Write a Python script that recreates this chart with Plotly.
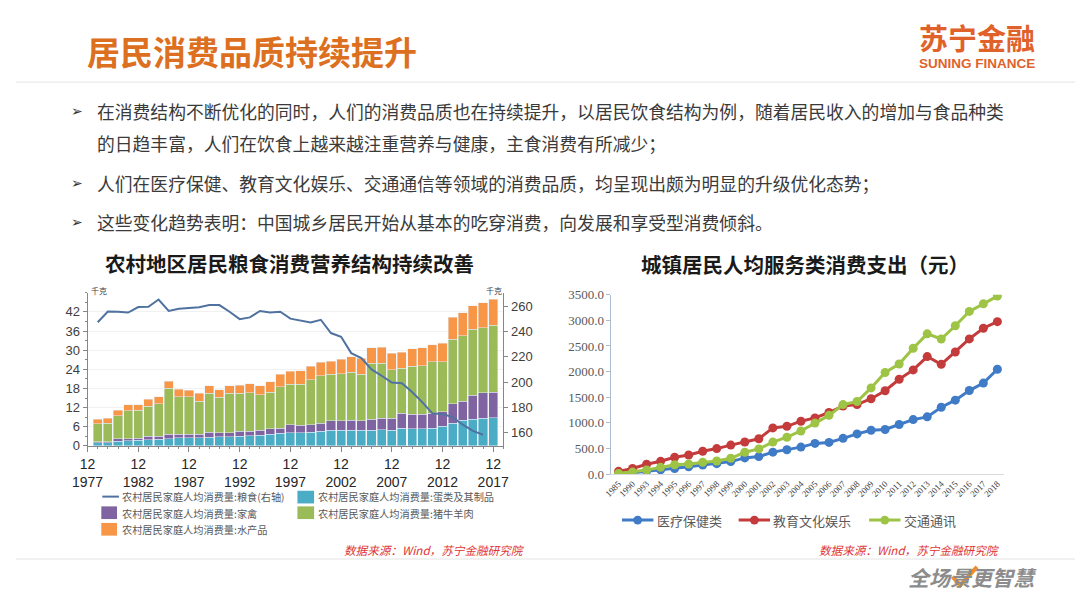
import plotly.graph_objects as go

# ---------------- data: left chart (rural per-capita consumption, kg) ----------------
years_rural = list(range(1978, 2018))
eggs = [1.0, 1.0, 1.5, 1.6, 1.8, 2.0, 2.1, 2.3, 2.5, 2.5, 2.5, 2.7, 2.8, 2.8, 3.0, 3.2, 3.3, 3.6, 3.9, 4.1,
        4.1, 4.3, 4.6, 4.9, 4.9, 4.9, 4.9, 4.9, 5.1, 4.9, 5.6, 5.4, 5.4, 5.6, 6.1, 7.1, 8.1, 8.3, 8.6, 8.9]
poultry = [0.3, 0.3, 0.8, 0.7, 0.6, 1.0, 0.9, 1.3, 1.2, 1.2, 1.1, 1.6, 1.3, 1.3, 1.6, 1.4, 1.6, 1.7, 1.7, 2.5,
           2.3, 2.3, 2.5, 3.0, 3.0, 3.1, 3.0, 3.4, 3.5, 3.7, 4.6, 4.6, 4.6, 4.6, 4.6, 6.1, 5.9, 7.5, 8.0, 7.9]
meat = [5.6, 5.8, 7.1, 8.7, 8.8, 9.4, 10.2, 14.5, 11.7, 11.7, 10.4, 12.2, 11.1, 12.4, 11.9, 12.0, 11.2, 11.5, 12.9, 12.7,
        12.9, 14.2, 14.9, 14.5, 14.7, 15.1, 14.5, 17.6, 17.3, 15.3, 14.2, 14.9, 15.2, 16.2, 15.7, 20.3, 20.5, 20.8, 20.5, 21.0]
aquatic = [1.4, 1.5, 1.8, 1.9, 1.7, 2.2, 2.2, 2.1, 2.3, 2.1, 2.5, 2.3, 2.4, 2.3, 2.5, 2.9, 2.7, 3.3, 3.9, 4.1,
           4.3, 4.1, 4.2, 4.2, 4.6, 4.8, 5.0, 4.9, 5.1, 5.1, 4.9, 5.6, 5.5, 5.3, 5.8, 6.8, 7.2, 7.4, 7.8, 8.1]
years_grain = list(range(1978, 2017))
grain = [247.6, 256.1, 256.0, 255.3, 259.7, 260.0, 265.7, 256.6, 258.4, 259.0, 259.5, 261.3, 261.3, 256.0,
         250.1, 251.5, 256.6, 255.3, 256.0, 250.5, 249.0, 247.5, 249.6, 239.0, 236.0, 223.0, 219.0, 210.0,
         205.0, 199.6, 199.0, 192.0, 184.0, 175.0, 174.5, 172.0, 166.0, 161.0, 158.0]
left_xticks = [1977, 1982, 1987, 1992, 1997, 2002, 2007, 2012, 2017]
left_yticks = [0, 6, 12, 18, 24, 30, 36, 42]
right_yticks = [160, 180, 200, 220, 240, 260]

# ---------------- data: right chart (urban per-capita service spending, yuan) ----------------
years_urban = ["1985", "1990"] + [str(y) for y in range(1993, 2019)]
medical = [16.7, 25.7, 56.9, 82.9, 110, 143, 179, 205, 245, 318, 343, 430, 476, 528, 600, 620, 699, 786,
           856, 872, 969, 1064, 1118, 1306, 1443, 1631, 1777, 2046]
education = [55, 112, 194, 251, 331, 375, 448, 499, 567, 627, 690, 902, 934, 1033, 1097, 1203, 1329, 1358,
             1472, 1628, 1852, 2034, 2294, 2142, 2383, 2638, 2847, 2974]
transport = [14.7, 40.5, 80.6, 133, 183, 199, 233, 257, 310, 427, 493, 626, 721, 843, 996, 1147, 1357, 1417,
             1683, 1984, 2149, 2456, 2737, 2637, 2895, 3174, 3322, 3473]

W, H = 1080, 608
def px(x): return x / W
def py(y): return 1 - y / H

CJK = "Noto Sans CJK SC"
C_EGG, C_POU, C_MEAT, C_AQU, C_GRAIN = "#4BACC6", "#8064A2", "#9BBB59", "#F79646", "#4F72A0"
C_MED, C_EDU, C_TRA = "#3F7BC6", "#C43B3B", "#9DC444"

fig = go.Figure()
fig.add_trace(go.Bar(x=years_rural, y=eggs, marker_color=C_EGG, name="蛋类及其制品", xaxis="x", yaxis="y"))
fig.add_trace(go.Bar(x=years_rural, y=poultry, marker_color=C_POU, name="家禽", xaxis="x", yaxis="y"))
fig.add_trace(go.Bar(x=years_rural, y=meat, marker_color=C_MEAT, name="猪牛羊肉", xaxis="x", yaxis="y"))
fig.add_trace(go.Bar(x=years_rural, y=aquatic, marker_color=C_AQU, name="水产品", xaxis="x", yaxis="y"))
fig.add_trace(go.Scatter(x=years_grain, y=grain, mode="lines", line=dict(color=C_GRAIN, width=2),
                         name="粮食", xaxis="x", yaxis="y2"))

for vals, col, nm in [(medical, C_MED, "医疗保健类"), (education, C_EDU, "教育文化娱乐"), (transport, C_TRA, "交通通讯")]:
    fig.add_trace(go.Scatter(x=years_urban, y=vals, mode="lines+markers", name=nm,
                             line=dict(color=col, width=3), marker=dict(color=col, size=9),
                             xaxis="x2", yaxis="y3"))

tickfont_l = dict(family="Liberation Sans", size=13, color="#404040")
fig.update_layout(
    width=W, height=H, margin=dict(l=0, r=0, t=0, b=0), showlegend=False,
    paper_bgcolor="white", plot_bgcolor="white", barmode="stack", bargap=0.1,
    font=dict(family=CJK),
    xaxis=dict(domain=[px(73), px(497)], range=[1977, 2018], anchor="y",
               tickmode="array", tickvals=left_xticks, ticktext=[f"12<br>{y}" for y in left_xticks],
               showline=True, linecolor="#868686", ticks="outside", ticklen=5, tickcolor="#868686",
               showgrid=False, zeroline=False, tickfont=dict(family="Liberation Sans", size=14, color="#262626"),
               minor=dict(ticks="outside", ticklen=2, dtick=1, tickcolor="#868686")),
    yaxis=dict(domain=[py(450), py(293)], range=[0, 48], anchor="x",
               tickmode="array", tickvals=left_yticks, showline=True, linecolor="#868686",
               ticks="outside", ticklen=4, tickcolor="#868686", showgrid=True, gridcolor="#f1f1f1",
               zeroline=False, tickfont=tickfont_l,
               minor=dict(ticks="outside", ticklen=2, dtick=3, tickcolor="#868686")),
    yaxis2=dict(overlaying="y", side="right", anchor="x", range=[149.1, 271.1],
                tickmode="array", tickvals=right_yticks, showline=True, linecolor="#868686",
                ticks="outside", ticklen=4, tickcolor="#868686", showgrid=False, zeroline=False,
                tickfont=tickfont_l),
    xaxis2=dict(domain=[px(607.3), px(1008)], anchor="y3", type="category", range=[-0.5, 27.5],
                showline=True, linecolor="#d9d9d9", ticks="", showgrid=False, zeroline=False,
                tickangle=-45, tickfont=dict(family="Liberation Serif", size=9, color="#404040")),
    yaxis3=dict(domain=[py(479), py(295)], anchor="x2", range=[0, 3500], dtick=500, tickformat=".1f",
                showline=True, linecolor="#a9bcd0", ticks="outside", ticklen=4, tickcolor="#a9bcd0",
                showgrid=False, zeroline=False,
                tickfont=dict(family="Liberation Serif", size=13, color="#595959")),
)

ann = []
def text(x, y, t, size, color="#333333", xanchor="left", family=CJK, weight=None, style=None):
    f = dict(family=family, size=size, color=color)
    if weight:
        f["weight"] = weight
    if style:
        f["style"] = style
    ann.append(dict(x=px(x), y=py(y), xref="paper", yref="paper", text=t, showarrow=False,
                    xanchor=xanchor, yanchor="middle", font=f, borderpad=0))

# header
text(71, 45, "居民消费品质持续提升", 33, "#DC7020", weight="bold")
text(980, 31, "苏宁金融", 29, "#E0622A", xanchor="center", weight="bold")
text(980, 58, "SUNING FINANCE", 13.5, "#E0622A", xanchor="center", family="Liberation Sans", weight="bold")

# bullets
bullet_lines = [
    (107, True, "在消费结构不断优化的同时，人们的消费品质也在持续提升，以居民饮食结构为例，随着居民收入的增加与食品种类"),
    (139, False, "的日趋丰富，人们在饮食上越来越注重营养与健康，主食消费有所减少；"),
    (180, True, "人们在医疗保健、教育文化娱乐、交通通信等领域的消费品质，均呈现出颇为明显的升级优化态势；"),
    (220, True, "这些变化趋势表明：中国城乡居民开始从基本的吃穿消费，向发展和享受型消费倾斜。"),
]
for y, has_bullet, t in bullet_lines:
    if has_bullet:
        text(62, y, "➢", 14, "#333333", xanchor="center", family="DejaVu Sans")
    text(82, y, t, 17.8, "#3a3a3a")

# chart titles
text(279, 262, "农村地区居民粮食消费营养结构持续改善", 20.5, "#1a1a1a", xanchor="center", weight="bold")
text(805, 264, "城镇居民人均服务类消费支出（元）", 20.5, "#1a1a1a", xanchor="center", weight="bold")
text(75, 291, "千克", 8, "#404040")
text(478, 291, "千克", 8, "#404040")

# left legend
text(107, 502, "农村居民家庭人均消费量:粮食(右轴)", 10.2, "#595959")
text(307, 502, "农村居民家庭人均消费量:蛋类及其制品", 10.2, "#595959")
text(107, 519, "农村居民家庭人均消费量:家禽", 10.2, "#595959")
text(307, 519, "农村居民家庭人均消费量:猪牛羊肉", 10.2, "#595959")
text(107, 536, "农村居民家庭人均消费量:水产品", 10.2, "#595959")

# right legend
text(653, 526, "医疗保健类", 13, "#595959")
text(771, 526, "教育文化娱乐", 13, "#595959")
text(905, 526, "交通通讯", 13, "#595959")

# sources
text(520, 557, "数据来源：Wind，苏宁金融研究院", 11.6, "#E03434", xanchor="right", style="italic")
text(1005, 557, "数据来源：Wind，苏宁金融研究院", 11.6, "#E03434", xanchor="right", style="italic")

# bottom logo
text(975, 584, "全场景更智慧", 21, "#8C8C8C", xanchor="center", weight="bold", style="italic")

# data labels on right chart
lab_font = dict(family="Liberation Serif", size=13, color="#404040")
ann.append(dict(x=years_urban[-1], y=transport[-1], xref="x2", yref="y3", text=f"{transport[-1]:.1f}",
                showarrow=False, xanchor="right", yanchor="middle", xshift=-2, yshift=4, font=lab_font))
ann.append(dict(x=years_urban[-1], y=education[-1], xref="x2", yref="y3", text=f"{education[-1]:.1f}",
                showarrow=True, arrowhead=0, arrowwidth=0.8, arrowcolor="#7f7f7f", ax=0, ay=23,
                standoff=4, font=lab_font))
ann.append(dict(x=years_urban[-1], y=medical[-1], xref="x2", yref="y3", text=f"{medical[-1]:.1f}",
                showarrow=True, arrowhead=0, arrowwidth=0.8, arrowcolor="#7f7f7f", ax=-4, ay=30,
                standoff=4, font=lab_font))

shapes = []
def hline(x0, x1, y, color, width):
    shapes.append(dict(type="line", xref="paper", yref="paper", x0=px(x0), x1=px(x1), y0=py(y), y1=py(y),
                       line=dict(color=color, width=width)))
def rect(x0, y0, x1, y1, color):
    shapes.append(dict(type="rect", xref="paper", yref="paper", x0=px(x0), x1=px(x1), y0=py(y1), y1=py(y0),
                       line=dict(width=0), fillcolor=color))
def dot(cx, cy, r, color):
    shapes.append(dict(type="circle", xref="paper", yref="paper", x0=px(cx - r), x1=px(cx + r),
                       y0=py(cy + r), y1=py(cy - r), line=dict(width=0), fillcolor=color))

hline(0, 1080, 77, "#e4e4e4", 1)
hline(0, 1080, 566, "#ececec", 1.5)
# left legend symbols
hline(88, 105, 502, C_GRAIN, 2)
rect(287, 496, 304, 509, C_EGG)
rect(87, 512, 103, 525, C_POU)
rect(287, 512, 304, 525, C_MEAT)
rect(87, 529, 103, 542, C_AQU)
# right legend symbols
for x0, col in [(618, C_MED), (737, C_EDU), (870, C_TRA)]:
    hline(x0, x0 + 32, 526, col, 3)
    dot(x0 + 16, 526, 4.5, col)
# orange check mark of the bottom logo
chk = [(955, 584), (963, 593), (980, 574)]
path = "M " + " L ".join(f"{px(x)},{py(y)}" for x, y in chk)
shapes.append(dict(type="path", xref="paper", yref="paper", path=path,
                   line=dict(color="#F08C28", width=4)))

fig.update_layout(annotations=ann, shapes=shapes)
fig.write_html("out.html", config={"displayModeBar": False},
               post_script="document.body.style.margin='0';document.body.style.overflow='hidden';")
